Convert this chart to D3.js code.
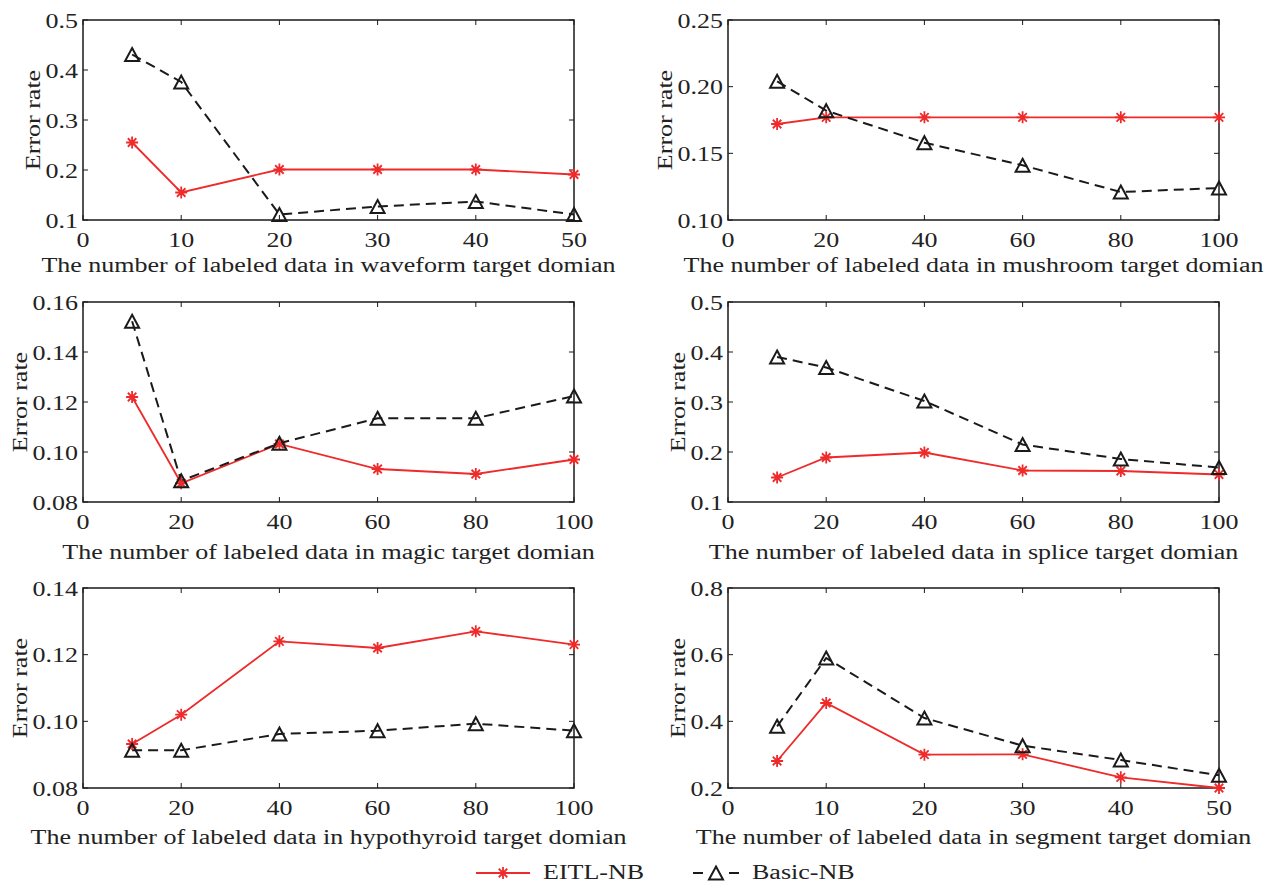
<!DOCTYPE html>
<html>
<head>
<meta charset="utf-8">
<script src="https://d3js.org/d3.v7.min.js"></script>
<style>
  body { margin: 0; background: #fff; }
  svg text { fill: #222; }
</style>
</head>
<body>
<svg id="chart" width="1269" height="885" font-family="'Liberation Serif', 'Times New Roman', serif"></svg>
<script>
// x values (number of labeled data)
const xSmall = [5, 10, 20, 30, 40, 50];
const xLarge = [10, 20, 40, 60, 80, 100];

// error rates
const eitlWaveform = [0.255, 0.155, 0.201, 0.201, 0.201, 0.191];
const basicWaveform = [0.431, 0.376, 0.111, 0.127, 0.137, 0.111];

const eitlMushroom = [0.172, 0.177, 0.177, 0.177, 0.177, 0.177];
const basicMushroom = [0.204, 0.182, 0.158, 0.141, 0.121, 0.124];

const eitlMagic = [0.122, 0.0875, 0.1032, 0.0932, 0.0912, 0.0970];
const basicMagic = [0.1523, 0.0885, 0.1035, 0.1135, 0.1135, 0.1224];

const eitlSplice = [0.149, 0.189, 0.199, 0.163, 0.162, 0.155];
const basicSplice = [0.390, 0.369, 0.302, 0.215, 0.186, 0.169];

const eitlHypo = [0.0932, 0.102, 0.124, 0.122, 0.127, 0.123];
const basicHypo = [0.0913, 0.0913, 0.0962, 0.0972, 0.0993, 0.0972];

const eitlSegment = [0.281, 0.455, 0.300, 0.301, 0.232, 0.200];
const basicSegment = [0.385, 0.590, 0.410, 0.327, 0.284, 0.238];

// axis ticks
const xTicksSmall = [0, 10, 20, 30, 40, 50];
const xTicksLarge = [0, 20, 40, 60, 80, 100];
const yTicksWaveform = [0.1, 0.2, 0.3, 0.4, 0.5];
const yTicksMushroom = [0.10, 0.15, 0.20, 0.25];
const yTicksMagic = [0.08, 0.10, 0.12, 0.14, 0.16];
const yTicksSplice = [0.1, 0.2, 0.3, 0.4, 0.5];
const yTicksHypo = [0.08, 0.10, 0.12, 0.14];
const yTicksSegment = [0.2, 0.4, 0.6, 0.8];

const domains = ["waveform", "mushroom", "magic", "splice", "hypothyroid", "segment"];
const seriesNames = ["EITL-NB", "Basic-NB"];

const panels = [
  {name: domains[0], x: xSmall, xt: xTicksSmall, yt: yTicksWaveform, fmt: ".1f", a: eitlWaveform, b: basicWaveform},
  {name: domains[1], x: xLarge, xt: xTicksLarge, yt: yTicksMushroom, fmt: ".2f", a: eitlMushroom, b: basicMushroom},
  {name: domains[2], x: xLarge, xt: xTicksLarge, yt: yTicksMagic, fmt: ".2f", a: eitlMagic, b: basicMagic},
  {name: domains[3], x: xLarge, xt: xTicksLarge, yt: yTicksSplice, fmt: ".1f", a: eitlSplice, b: basicSplice},
  {name: domains[4], x: xLarge, xt: xTicksLarge, yt: yTicksHypo, fmt: ".2f", a: eitlHypo, b: basicHypo},
  {name: domains[5], x: xSmall, xt: xTicksSmall, yt: yTicksSegment, fmt: ".1f", a: eitlSegment, b: basicSegment}
];

const red = "#ee2a2a";
const ink = "#1a1a1a";
const colLeft = [83, 728];
const rowTop = [20, 302, 588];
const labelDrop = [52, 57, 56];
const pw = 491, ph = 200;
const stretch = 1.3; // computer modern is wider than the available serif

const svg = d3.select("#chart");

// widen text horizontally to mimic the LaTeX font
function widen(sel) {
  sel.each(function() {
    const w = this.getComputedTextLength();
    d3.select(this).attr("textLength", w * stretch).attr("lengthAdjust", "spacingAndGlyphs");
  });
}

function asterisk(g, x, y) {
  const r = 6, d = r * 0.707;
  g.append("path")
    .attr("d", `M${x-r},${y}L${x+r},${y}M${x},${y-r}L${x},${y+r}M${x-d},${y-d}L${x+d},${y+d}M${x-d},${y+d}L${x+d},${y-d}`)
    .attr("stroke", red).attr("stroke-width", 1.8).attr("fill", "none");
}

function triangle(g, x, y) {
  g.append("path")
    .attr("d", `M${x},${y-6.5}L${x+7},${y+6.5}L${x-7},${y+6.5}Z`)
    .attr("stroke", ink).attr("stroke-width", 2).attr("fill", "none")
    .attr("stroke-linejoin", "miter");
}

panels.forEach((p, i) => {
  const row = Math.floor(i / 2);
  const left = colLeft[i % 2], top = rowTop[row];
  const g = svg.append("g").attr("transform", `translate(${left},${top})`);
  const x = d3.scaleLinear().domain([p.xt[0], p.xt[p.xt.length - 1]]).range([0, pw]);
  const y = d3.scaleLinear().domain([p.yt[0], p.yt[p.yt.length - 1]]).range([ph, 0]);

  // box with inward ticks on all four sides
  g.append("rect").attr("width", pw).attr("height", ph)
    .attr("fill", "none").attr("stroke", ink).attr("stroke-width", 1.5);
  p.xt.forEach(t => {
    g.append("line").attr("x1", x(t)).attr("x2", x(t)).attr("y1", ph).attr("y2", ph - 5).attr("stroke", ink);
    g.append("line").attr("x1", x(t)).attr("x2", x(t)).attr("y1", 0).attr("y2", 5).attr("stroke", ink);
  });
  p.yt.forEach(t => {
    g.append("line").attr("x1", 0).attr("x2", 5).attr("y1", y(t)).attr("y2", y(t)).attr("stroke", ink);
    g.append("line").attr("x1", pw).attr("x2", pw - 5).attr("y1", y(t)).attr("y2", y(t)).attr("stroke", ink);
  });

  g.selectAll(".xt").data(p.xt).enter().append("text")
    .attr("x", d => x(d)).attr("y", ph + 27)
    .attr("text-anchor", "middle").style("font-size", "20px")
    .text(d => d).call(widen);

  const yl = g.append("g");
  yl.selectAll("text").data(p.yt).enter().append("text")
    .attr("x", -5).attr("y", d => y(d)).attr("dy", "0.38em")
    .attr("text-anchor", "end").style("font-size", "20px")
    .text(d => d3.format(p.fmt)(d)).call(widen);

  const bb = yl.node().getBBox();
  g.append("text")
    .attr("transform", `translate(${bb.x - 6},${ph / 2}) rotate(-90)`)
    .attr("text-anchor", "middle").style("font-size", "20px")
    .text("Error rate").call(widen);

  g.append("text")
    .attr("x", pw / 2).attr("y", ph + labelDrop[row])
    .attr("text-anchor", "middle").style("font-size", "20px")
    .text(`The number of labeled data in ${p.name} target domian`).call(widen);

  const line = d3.line().x(d => x(d[0])).y(d => y(d[1]));
  const ptsA = p.x.map((v, k) => [v, p.a[k]]);
  const ptsB = p.x.map((v, k) => [v, p.b[k]]);

  g.append("path").datum(ptsA).attr("d", line)
    .attr("fill", "none").attr("stroke", red).attr("stroke-width", 1.8);
  g.append("path").datum(ptsB).attr("d", line)
    .attr("fill", "none").attr("stroke", ink).attr("stroke-width", 2)
    .attr("stroke-dasharray", "10,6");

  ptsA.forEach(d => asterisk(g, x(d[0]), y(d[1])));
  ptsB.forEach(d => triangle(g, x(d[0]), y(d[1])));
});

// legend
const lg = svg.append("g").attr("transform", "translate(0,873)");
lg.append("line").attr("x1", 476).attr("x2", 530).attr("y1", 0).attr("y2", 0)
  .attr("stroke", red).attr("stroke-width", 1.8);
asterisk(lg, 503, 0);
lg.append("text").attr("x", 543).attr("y", 6).style("font-size", "20px")
  .text(seriesNames[0]).call(widen);
lg.append("line").attr("x1", 693).attr("x2", 739).attr("y1", 0).attr("y2", 0)
  .attr("stroke", ink).attr("stroke-width", 2).attr("stroke-dasharray", "10,26");
triangle(lg, 716, 0);
lg.append("text").attr("x", 752).attr("y", 6).style("font-size", "20px")
  .text(seriesNames[1]).call(widen);
</script>
</body>
</html>
